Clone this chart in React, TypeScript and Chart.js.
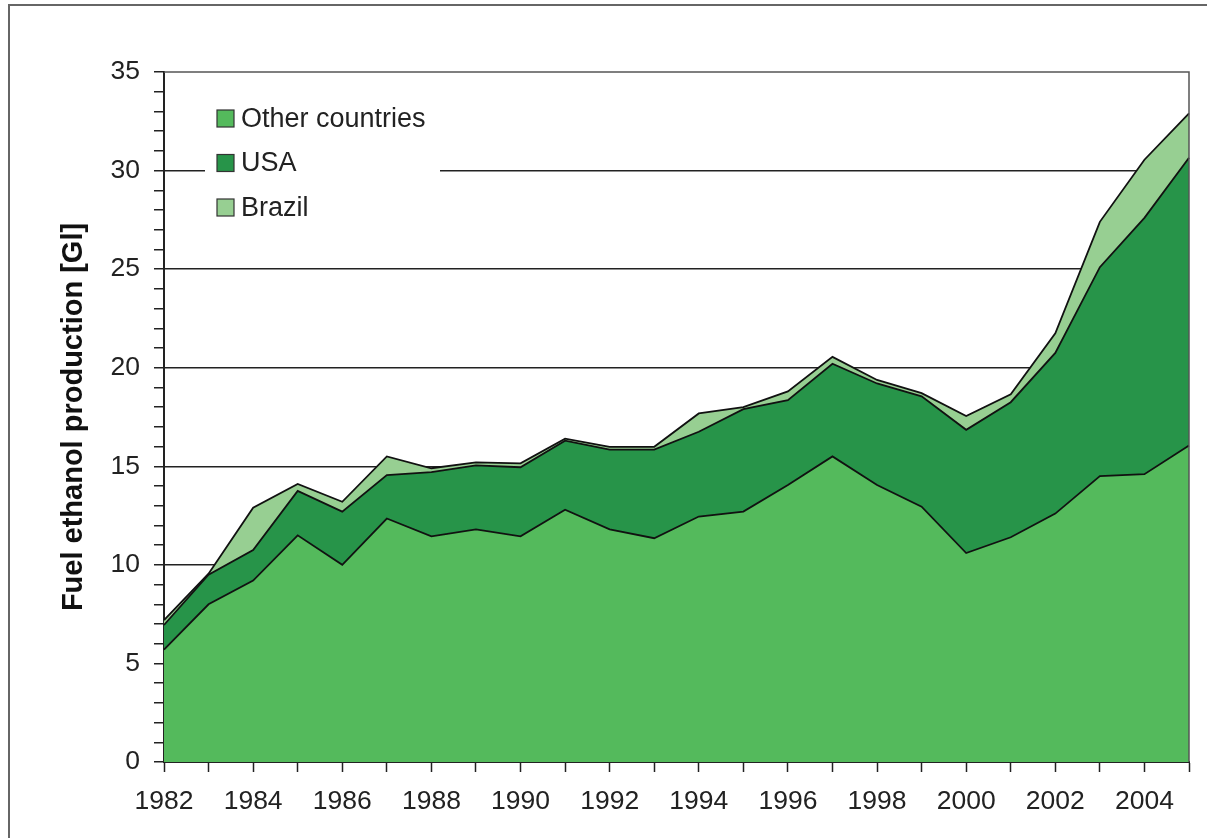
import React, { useEffect, useRef } from "react";
import { Chart, registerables } from "chart.js";

Chart.register(...registerables);

const YEARS = [
  "1982", "1983", "1984", "1985", "1986", "1987", "1988", "1989", "1990", "1991", "1992", "1993",
  "1994", "1995", "1996", "1997", "1998", "1999", "2000", "2001", "2002", "2003", "2004", "2005",
];
const OTHER_COUNTRIES = [
  5.7, 8.0, 9.2, 11.5, 10.0, 12.35, 11.45, 11.8, 11.45, 12.8, 11.8, 11.35,
  12.45, 12.7, 14.05, 15.5, 14.05, 12.95, 10.6, 11.4, 12.6, 14.5, 14.6, 16.05,
];
const USA = [
  1.25, 1.5, 1.55, 2.25, 2.7, 2.2, 3.25, 3.25, 3.5, 3.5, 4.05, 4.5,
  4.3, 5.2, 4.3, 4.7, 5.15, 5.6, 6.25, 6.85, 8.15, 10.6, 13.0, 14.6,
];
const BRAZIL = [
  0.25, 0.05, 2.15, 0.35, 0.5, 0.95, 0.2, 0.15, 0.2, 0.1, 0.13, 0.14,
  0.93, 0.1, 0.45, 0.35, 0.18, 0.16, 0.7, 0.4, 1.0, 2.3, 2.95, 2.25,
];
const SERIES_NAMES = ["Other countries", "USA", "Brazil"];
const SERIES_COLORS = ["#54ba5c", "#279449", "#97cf92"];
const Y_MAJOR_STEP = 5;
const Y_GRID_VALUES = [10, 15, 20, 25, 30];

const FONT = "'Liberation Sans', Arial, Helvetica, sans-serif";

const framePlugin = {
  id: "frameAndLegend",
  afterDraw(chart: any) {
    const { ctx, chartArea } = chart;
    ctx.save();
    // outer frame (top + left)
    ctx.strokeStyle = "#666";
    ctx.lineWidth = 2;
    ctx.beginPath();
    ctx.moveTo(9, 838);
    ctx.lineTo(9, 5);
    ctx.lineTo(1207, 5);
    ctx.stroke();
    // plot border top & right
    ctx.strokeStyle = "#555";
    ctx.lineWidth = 1.5;
    ctx.beginPath();
    ctx.moveTo(chartArea.left, chartArea.top);
    ctx.lineTo(chartArea.right, chartArea.top);
    ctx.lineTo(chartArea.right, chartArea.bottom);
    ctx.stroke();
    // legend
    ctx.fillStyle = "#fff";
    ctx.fillRect(205, 88, 235, 140);
    const ds = chart.data.datasets;
    ctx.font = `27px ${FONT}`;
    ctx.textBaseline = "middle";
    ctx.textAlign = "left";
    ds.forEach((d: any, i: number) => {
      const cy = 118.5 + i * 44.5;
      ctx.fillStyle = d.backgroundColor;
      ctx.fillRect(217, cy - 8.5, 17, 17);
      ctx.strokeStyle = "#333";
      ctx.lineWidth = 1.2;
      ctx.strokeRect(217, cy - 8.5, 17, 17);
      ctx.fillStyle = "#222";
      ctx.fillText(d.label, 241, cy + 1);
    });
    ctx.restore();
  },
};

export default function App() {
  const ref = useRef<HTMLCanvasElement | null>(null);
  useEffect(() => {
    if (!ref.current) return;
    const values = [OTHER_COUNTRIES, USA, BRAZIL];
    const chart = new Chart(ref.current, {
      type: "line",
      data: {
        labels: YEARS,
        datasets: values.map((v, i) => ({
          label: SERIES_NAMES[i],
          data: v,
          backgroundColor: SERIES_COLORS[i],
          borderColor: "#111",
          borderWidth: 1.8,
          pointRadius: 0,
          tension: 0,
          fill: i === 0 ? "origin" : "-1",
        })),
      },
      options: {
        responsive: false,
        animation: false,
        events: [],
        layout: { padding: { left: 0, right: 18, top: 72, bottom: 0 } },
        plugins: { legend: { display: false }, tooltip: { enabled: false }, title: { display: false } },
        scales: {
          x: {
            type: "category",
            offset: false,
            afterFit: (s: any) => { s.height = 76; },
            grid: {
              drawOnChartArea: false,
              drawTicks: true,
              tickLength: 10,
              tickWidth: 1.5,
              tickColor: "#222",
            },
            border: { color: "#222", width: 2 },
            ticks: {
              autoSkip: false,
              maxRotation: 0,
              minRotation: 0,
              padding: 14,
              color: "#222",
              font: { family: FONT, size: 26.5 },
              callback: (_v: any, idx: number) => (Number(YEARS[idx]) % 2 === 0 ? YEARS[idx] : ""),
            },
          },
          y: {
            stacked: true,
            min: 0,
            max: 35,
            afterFit: (s: any) => { s.width = 164; },
            grid: {
              color: (c: any) => (c.tick && Y_GRID_VALUES.includes(c.tick.value) ? "#222" : "rgba(0,0,0,0)"),
              lineWidth: 1.5,
              drawTicks: true,
              tickLength: 10,
              tickWidth: 1.5,
              tickColor: "#222",
            },
            border: { color: "#222", width: 2 },
            ticks: {
              stepSize: 1,
              autoSkip: false,
              padding: 14,
              color: "#222",
              font: { family: FONT, size: 26.5 },
              callback: (v: any) => (Number(v) % Y_MAJOR_STEP === 0 ? String(v) : ""),
            },
            title: {
              display: true,
              text: "Fuel ethanol production [Gl]",
              color: "#111",
              font: { family: FONT, size: 29, weight: "bold" },
              padding: { top: 57, bottom: 0 },
            },
          },
        },
      },
      plugins: [framePlugin],
    } as any);
    return () => chart.destroy();
  }, []);
  return (
    <div style={{ position: "absolute", left: 0, top: 0, width: 1207, height: 838, background: "#fff" }}>
      <canvas ref={ref} width={1207} height={838} style={{ display: "block" }} />
    </div>
  );
}
